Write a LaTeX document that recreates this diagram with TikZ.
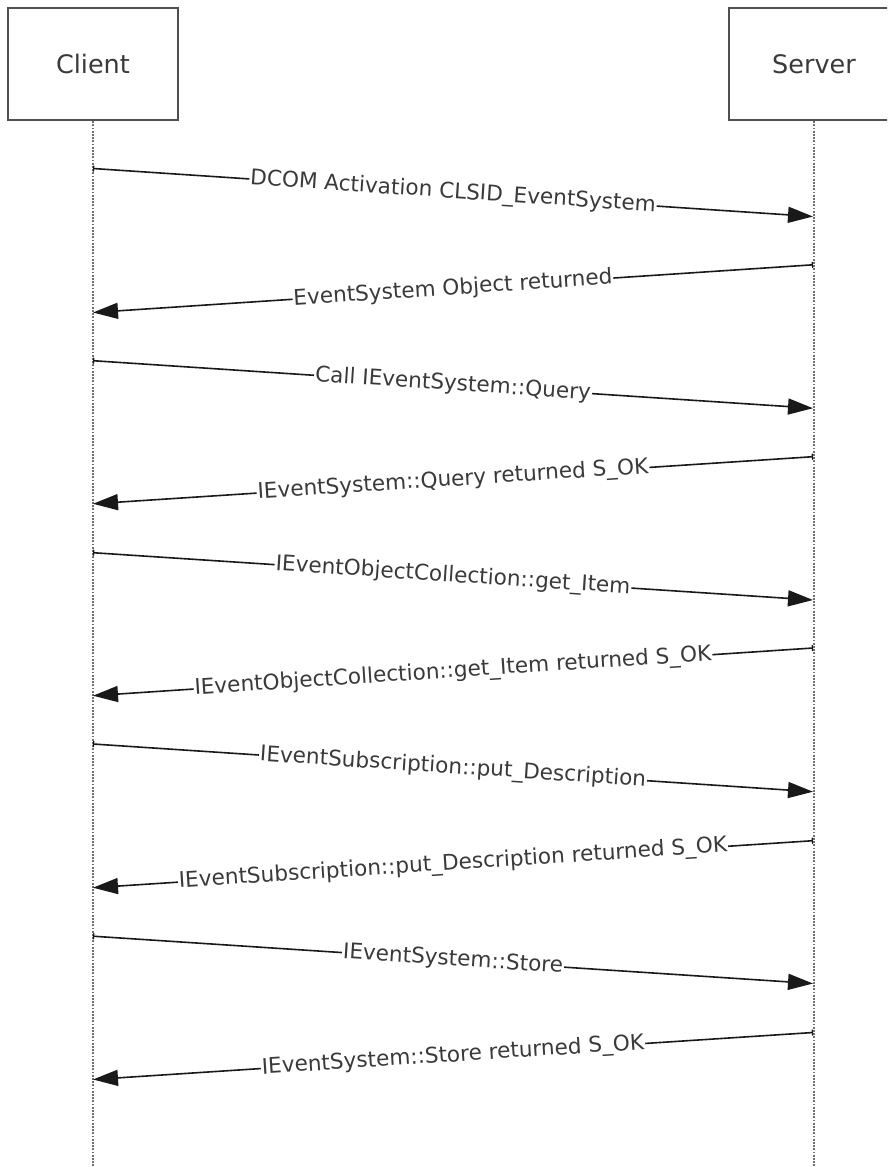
\documentclass[tikz,border=0pt]{standalone}
\usepackage{fontspec}
\setmainfont{DejaVu Sans}
\usetikzlibrary{arrows.meta}
\definecolor{boxgray}{HTML}{505050}
\definecolor{lifegray}{HTML}{707070}
\definecolor{txtgray}{HTML}{3A3A3A}
\begin{document}
\begin{tikzpicture}[x=1pt,y=-1pt,
  actor/.style={draw=boxgray, line width=2.2pt, minimum width=170pt, minimum height=112pt, inner sep=0pt, font=\fontsize{25.5}{30}\selectfont, text=txtgray},
  life/.style={draw=lifegray, line width=2pt, dash pattern=on 1.8pt off 1.4pt},
  msg/.style={draw=black!90, line width=1.6pt, {Bar[width=6pt,line width=1.2pt]}-{Triangle[length=25pt,width=16pt]}},
  lbl/.style={midway, sloped, fill=white, inner sep=1pt, font=\fontsize{21.6}{25}\selectfont, text=txtgray}]
\clip (0,0) rectangle (887,1167);
\fill[white] (0,0) rectangle (887,1167);
\node[actor] (client) at (93,64) {Client};
\node[actor] (server) at (814,64) {Server};
\coordinate (cend) at (93,1167);
\coordinate (send) at (814,1167);
\draw[life] (client.south) -- (cend);
\draw[life] (server.south) -- (send);
% message endpoints
\coordinate (c1) at (93,168.5);  \coordinate (s1) at (813,216.5);
\coordinate (s2) at (813,264.8); \coordinate (c2) at (93,312.5);
\coordinate (c3) at (93,360.7);  \coordinate (s3) at (813,408.2);
\coordinate (s4) at (813,456.7); \coordinate (c4) at (93,503.8);
\coordinate (c5) at (93,552.7);  \coordinate (s5) at (813,600);
\coordinate (s6) at (813,648);   \coordinate (c6) at (93,695.7);
\coordinate (c7) at (93,744);    \coordinate (s7) at (813,791.7);
\coordinate (s8) at (813,840.7); \coordinate (c8) at (93,887.7);
\coordinate (c9) at (93,936.2);  \coordinate (s9) at (813,983.5);
\coordinate (s10) at (813,1032.5); \coordinate (c10) at (93,1079.5);
\draw[msg] (c1) -- node[lbl] (m1) {DCOM Activation CLSID\_EventSystem} (s1);
\draw[msg] (s2) -- node[lbl] (m2) {EventSystem Object returned} (c2);
\draw[msg] (c3) -- node[lbl] (m3) {Call IEventSystem::Query} (s3);
\draw[msg] (s4) -- node[lbl] (m4) {IEventSystem::Query returned S\_OK} (c4);
\draw[msg] (c5) -- node[lbl] (m5) {IEventObjectCollection::get\_Item} (s5);
\draw[msg] (s6) -- node[lbl] (m6) {IEventObjectCollection::get\_Item returned S\_OK} (c6);
\draw[msg] (c7) -- node[lbl] (m7) {IEventSubscription::put\_Description} (s7);
\draw[msg] (s8) -- node[lbl] (m8) {IEventSubscription::put\_Description returned S\_OK} (c8);
\draw[msg] (c9) -- node[lbl] (m9) {IEventSystem::Store} (s9);
\draw[msg] (s10) -- node[lbl] (m10) {IEventSystem::Store returned S\_OK} (c10);
\end{tikzpicture}
\end{document}
